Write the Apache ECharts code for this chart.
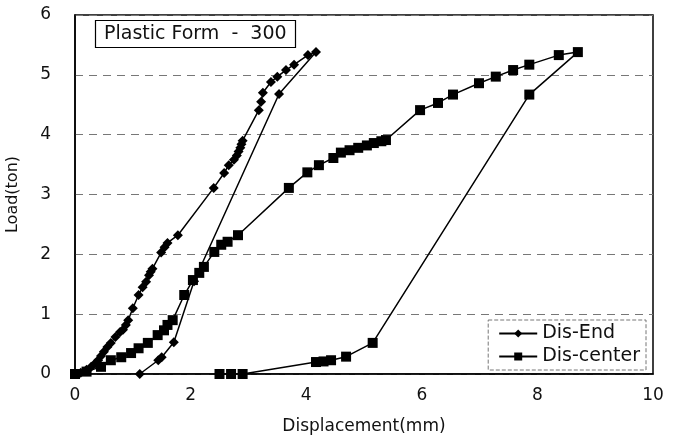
<!DOCTYPE html>
<html>
<head>
<meta charset="utf-8">
<script src="https://cdn.jsdelivr.net/npm/echarts@6/dist/echarts.min.js"></script>
<style>
  html, body { margin: 0; padding: 0; background: #fff; }
  #main { width: 682px; height: 436px; }
</style>
</head>
<body>
<div id="main"></div>
<script>
var chartTitle = 'Plastic Form  -  300';
var xTicks = [0, 2, 4, 6, 8, 10];
var yTicks = [0, 1, 2, 3, 4, 5, 6];

// Dis-End: loading then unloading
var disEndDisp = [0, 0.1, 0.2, 0.28, 0.35, 0.4, 0.45, 0.5, 0.56, 0.62, 0.7, 0.78, 0.83, 0.88, 0.92,
    1.0, 1.1, 1.17, 1.23, 1.28, 1.31, 1.34, 1.49, 1.55, 1.6, 1.78, 2.4, 2.58, 2.66, 2.75, 2.8,
    2.83, 2.86, 2.88, 2.9, 3.18, 3.22, 3.25, 3.39, 3.5, 3.65, 3.79, 4.03, 4.17,
    3.53, 2.06, 1.71, 1.5, 1.44, 1.12];
var disEndLoad = [0, 0.02, 0.07, 0.12, 0.18, 0.23, 0.3, 0.37, 0.45, 0.52, 0.62, 0.7, 0.74, 0.82, 0.9,
    1.1, 1.32, 1.45, 1.54, 1.65, 1.71, 1.76, 2.03, 2.12, 2.19, 2.32, 3.11, 3.36, 3.49, 3.58, 3.65,
    3.72, 3.78, 3.84, 3.9, 4.41, 4.55, 4.7, 4.88, 4.97, 5.08, 5.17, 5.33, 5.38,
    4.68, 1.55, 0.53, 0.28, 0.23, 0];

// Dis-center: loading then unloading
var disCenterDisp = [0, 0.2, 0.45, 0.62, 0.8, 0.97, 1.1, 1.26, 1.43, 1.54, 1.6, 1.69, 1.89, 2.04,
    2.15, 2.23, 2.41, 2.53, 2.64, 2.82, 3.7, 4.02, 4.22, 4.47, 4.6, 4.75, 4.9, 5.05, 5.17, 5.3, 5.38,
    5.97, 6.28, 6.54, 6.99, 7.28, 7.58, 7.86, 8.37, 8.7,
    7.86, 5.15, 4.69, 4.43, 4.3, 4.17, 2.9, 2.7, 2.5];
var disCenterLoad = [0, 0.04, 0.12, 0.23, 0.28, 0.35, 0.43, 0.52, 0.65, 0.73, 0.82, 0.9, 1.32, 1.57,
    1.69, 1.79, 2.04, 2.16, 2.21, 2.32, 3.11, 3.37, 3.49, 3.61, 3.7, 3.74, 3.78, 3.82, 3.86, 3.89, 3.91,
    4.41, 4.53, 4.67, 4.86, 4.97, 5.08, 5.17, 5.33, 5.38,
    4.67, 0.52, 0.29, 0.23, 0.21, 0.2, 0, 0, 0];

function pairs(xs, ys) {
    return xs.map(function (x, i) { return [x, ys[i]]; });
}

var myChart = echarts.init(document.getElementById('main'));
var fontFam = 'DejaVu Sans, sans-serif';

option = {
    backgroundColor: '#fff',
    animation: false,
    title: {
        text: chartTitle,
        left: 95,
        top: 20,
        padding: [5, 9, 4, 9],
        borderColor: '#000',
        borderWidth: 1.2,
        textStyle: {
            color: '#111',
            fontFamily: fontFam,
            fontWeight: 'normal',
            fontSize: 19
        }
    },
    grid: {
        left: 75,
        right: 29,
        top: 15,
        bottom: 62,
        containLabel: false,
        outerBoundsMode: 'none',
        show: true,
        borderColor: '#000',
        borderWidth: 1.5
    },
    legend: {
        right: 36,
        bottom: 66,
        orient: 'vertical',
        itemWidth: 38,
        itemHeight: 10,
        itemGap: 4,
        padding: [4, 6, 4, 10],
        borderColor: '#777',
        borderWidth: 1,
        borderType: 'dashed',
        backgroundColor: '#fff',
        textStyle: {
            color: '#111',
            fontFamily: fontFam,
            fontSize: 19
        },
        data: ['Dis-End', 'Dis-center']
    },
    xAxis: {
        type: 'value',
        min: xTicks[0],
        max: xTicks[xTicks.length - 1],
        interval: 2,
        name: 'Displacement(mm)',
        nameLocation: 'middle',
        nameGap: 44,
        nameTextStyle: { color: '#111', fontFamily: fontFam, fontSize: 17 },
        axisLine: { lineStyle: { color: '#000', width: 1.5 } },
        axisTick: { show: false },
        splitLine: { show: false },
        axisLabel: { color: '#111', fontFamily: fontFam, fontSize: 17, margin: 13 }
    },
    yAxis: {
        type: 'value',
        min: yTicks[0],
        max: yTicks[yTicks.length - 1],
        interval: 1,
        name: 'Load(ton)',
        nameLocation: 'middle',
        nameGap: 54,
        nameTextStyle: { color: '#111', fontFamily: fontFam, fontSize: 16 },
        axisLine: { lineStyle: { color: '#000', width: 1.5 } },
        axisTick: { show: false },
        splitLine: { show: true, lineStyle: { color: '#777', type: [8, 6], width: 1 } },
        axisLabel: { color: '#111', fontFamily: fontFam, fontSize: 17, margin: 24 }
    },
    series: [{
        name: 'Dis-End',
        type: 'line',
        data: pairs(disEndDisp, disEndLoad),
        symbol: 'diamond',
        symbolSize: 10,
        showAllSymbol: true,
        lineStyle: { color: '#000', width: 1.5 },
        itemStyle: { color: '#000' }
    }, {
        name: 'Dis-center',
        type: 'line',
        data: pairs(disCenterDisp, disCenterLoad),
        symbol: 'rect',
        symbolSize: 10,
        showAllSymbol: true,
        lineStyle: { color: '#000', width: 1.5 },
        itemStyle: { color: '#000' }
    }]
};
myChart.setOption(option);
</script>
</body>
</html>
